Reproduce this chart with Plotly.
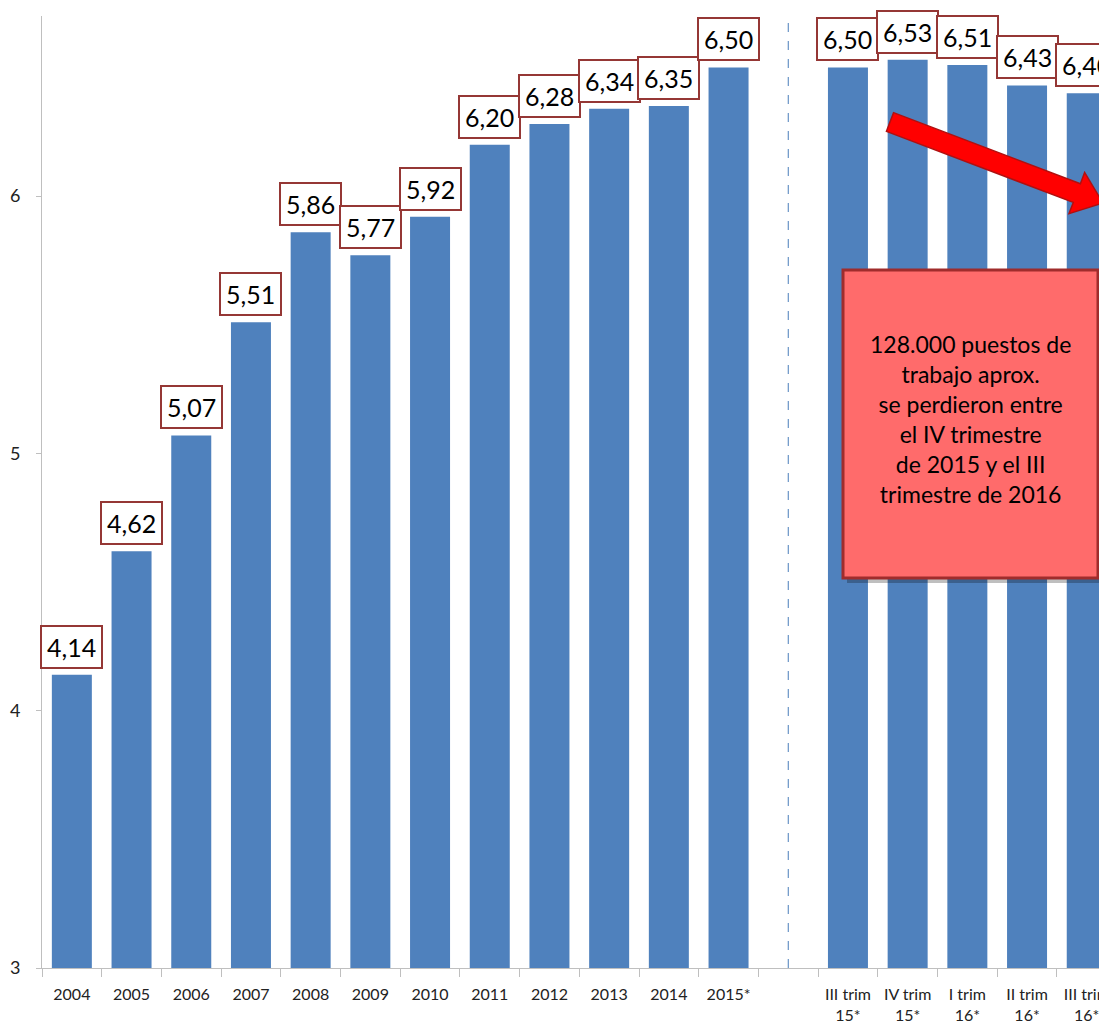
import numpy as np
import plotly.graph_objects as go

# ---- data ----
categories = ["2004", "2005", "2006", "2007", "2008", "2009", "2010", "2011",
              "2012", "2013", "2014", "2015*", " ",
              "III trim<br>15*", "IV trim<br>15*", "I trim<br>16*",
              "II trim<br>16*", "III trim<br>16*"]
values = [4.14, 4.62, 5.07, 5.51, 5.86, 5.77, 5.92, 6.20, 6.28, 6.34, 6.35, 6.50,
          None, 6.50, 6.53, 6.51, 6.43, 6.40]
y_ticks = [3, 4, 5, 6]
separator_category = " "
note_text = ("128.000 puestos de<br>trabajo aprox.<br>se perdieron entre<br>"
             "el IV trimestre<br>de 2015 y el III<br>trimestre de 2016")

# page body has an 8px margin; size the figure so the plot area lands where the reference has it
OFF = 8
W, H = 1107 - 2 * OFF, 1031 - 2 * OFF
PL, PR, PT, PB = 42, 1099, 16, 968   # plot area in screen pixels
ML, MR, MT, MB = PL - OFF, (OFF + W) - PR, PT - OFF, (OFF + H) - PB

def px2paper(px, py):
    return (px - PL) / (PR - PL), (PB - py) / (PB - PT)

FONT = "Lato, 'Open Sans', sans-serif"
BAR = "#4F81BD"

fig = go.Figure()
fig.add_trace(go.Bar(x=categories, y=values, marker_color=BAR, marker_line_width=0,
                     hoverinfo="skip"))

# value label boxes (x given as category index)
for i, v in enumerate(values):
    if v is None:
        continue
    fig.add_annotation(x=i, y=v, xref="x", yref="y", yanchor="bottom", xanchor="center",
                       yshift=6, text=f"{v:.2f}".replace(".", ","), showarrow=False,
                       font=dict(family=FONT, size=25, color="black"),
                       bgcolor="white", bordercolor="#953735", borderwidth=2,
                       borderpad=5)

# dashed separator line
sep = categories.index(separator_category)
fig.add_shape(type="line", xref="x", yref="paper", x0=sep, x1=sep, y0=0, y1=1,
              line=dict(color="#4A7EBB", width=1, dash="dash"))

# red note box
x0, y0 = px2paper(843, 578)
x1, y1 = px2paper(1098, 270)
sx0, sy0 = px2paper(847, 583)
sx1, sy1 = px2paper(1102, 275)
fig.add_shape(type="rect", xref="paper", yref="paper", x0=sx0, y0=sy0, x1=sx1, y1=sy1,
              fillcolor="rgba(0,0,0,0.25)", line=dict(width=0), layer="above")
fig.add_shape(type="rect", xref="paper", yref="paper", x0=x0, y0=y0, x1=x1, y1=y1,
              fillcolor="#FF6B6B", line=dict(color="#A02C2C", width=3), layer="above")
cx, cy = px2paper(970, 419)
fig.add_annotation(x=cx, y=cy, xref="paper", yref="paper", xanchor="center",
                   yanchor="middle", text=note_text, showarrow=False,
                   font=dict(family=FONT, size=23, color="black"), align="center")

# red arrow (decorative)
tail = np.array([890.0, 122.0])
tip = np.array([1103.0, 203.0])
u = (tip - tail) / np.linalg.norm(tip - tail)
n = np.array([-u[1], u[0]])
hw, hl, hhw = 10.0, 28.0, 22.0
base = tip - u * hl
pts = [tail - n * hw, base - n * hw, base - n * hhw, tip, base + n * hhw,
       base + n * hw, tail + n * hw]
path = ""
for k, p in enumerate(pts):
    xp, yp = px2paper(p[0], p[1])
    path += ("M" if k == 0 else "L") + f"{xp:.5f},{yp:.5f} "
path += "Z"
fig.add_shape(type="path", xref="paper", yref="paper", path=path,
              fillcolor="#FF0000", line=dict(color="#B01010", width=1.5), layer="above")

spacing = 59.7
xr_end = -0.5 + (PR - PL) / spacing

fig.update_layout(
    width=W, height=H, margin=dict(l=ML, r=MR, t=MT, b=MB, pad=0),
    paper_bgcolor="white", plot_bgcolor="white", showlegend=False,
    bargap=0.33,
    font=dict(family=FONT, size=16, color="#222222"),
)
fig.update_xaxes(type="category", categoryorder="array", categoryarray=categories,
                 range=[-0.5, xr_end], showgrid=False, showline=True,
                 linecolor="#BFBFBF", linewidth=1, ticks="outside", tickson="boundaries",
                 ticklen=8, tickcolor="#BFBFBF", tickfont=dict(size=16, color="#222222"),
                 ticklabelstandoff=12, automargin=False, fixedrange=True)
fig.update_yaxes(range=[3, 6.7], tickvals=y_ticks, ticktext=[str(t) for t in y_ticks],
                 showgrid=False, zeroline=False, showline=True, linecolor="#BFBFBF",
                 linewidth=1, ticks="outside", ticklen=5, tickcolor="#BFBFBF",
                 ticklabelstandoff=12, tickfont=dict(size=18, color="#222222"),
                 automargin=False)

fig.write_html("out.html")
